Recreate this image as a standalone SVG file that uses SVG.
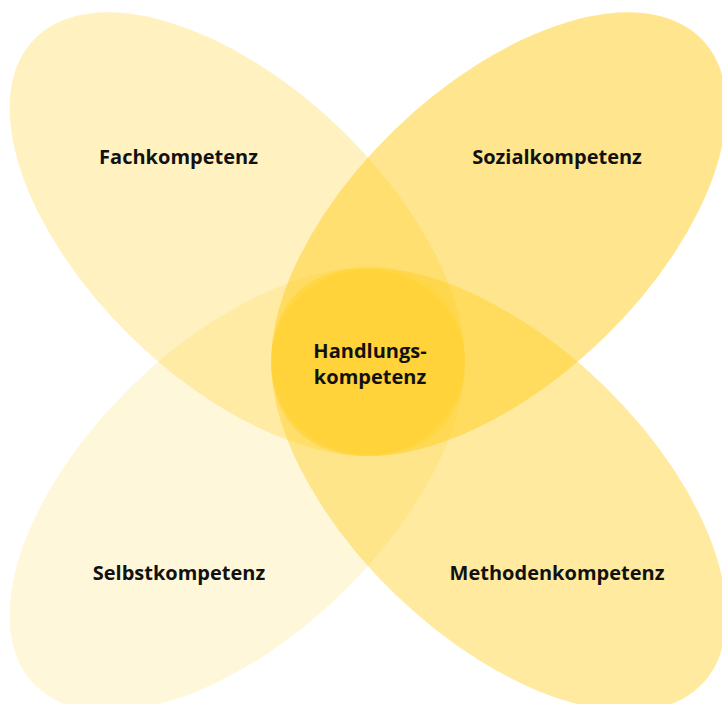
<svg xmlns="http://www.w3.org/2000/svg" width="722" height="704" viewBox="0 0 722 704">
  <style>
    .petal { fill: #FFCD1D; }
    .lbl { font-family: "Open Sans", "Noto Sans", "Liberation Sans", sans-serif; font-weight: 700; font-size: 20px; fill: #111111; text-anchor: middle; }
  </style>
  <rect width="722" height="704" fill="#FFFFFF"/>
  <g transform="scale(1,0.97507)">
    <g id="fach">
      <ellipse class="petal" fill-opacity="0.28" cx="237.2" cy="240.2" rx="285" ry="149.5" transform="rotate(45 237.2 240.2)"/>
    </g>
    <g id="sozial">
      <ellipse class="petal" fill-opacity="0.5" cx="498.8" cy="240.2" rx="285" ry="149.5" transform="rotate(-45 498.8 240.2)"/>
    </g>
    <g id="selbst">
      <ellipse class="petal" fill-opacity="0.17" cx="237.2" cy="501.8" rx="285" ry="149.5" transform="rotate(-45 237.2 501.8)"/>
    </g>
    <g id="methoden">
      <ellipse class="petal" fill-opacity="0.42" cx="498.8" cy="501.8" rx="285" ry="149.5" transform="rotate(45 498.8 501.8)"/>
    </g>
    <g id="handlung">
      <ellipse class="petal" fill-opacity="0.27" cx="368" cy="371.5" rx="97" ry="95"/>
    </g>
  </g>
  <g id="labels">
    <text class="lbl" x="178.5" y="164">Fachkompetenz</text>
    <text class="lbl" x="557" y="164">Sozialkompetenz</text>
    <text class="lbl" x="179" y="580">Selbstkompetenz</text>
    <text class="lbl" x="557" y="580">Methodenkompetenz</text>
    <text class="lbl" x="370" y="358">Handlungs-<tspan x="370" dy="25.5">kompetenz</tspan></text>
  </g>
  <g id="connectors"/>
</svg>
